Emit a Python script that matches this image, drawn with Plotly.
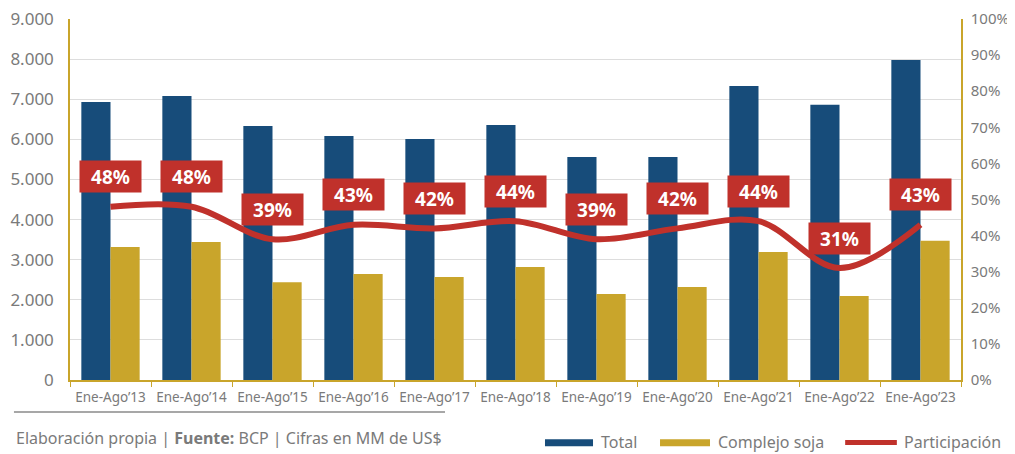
import plotly.graph_objects as go

categories = ["Ene-Ago’13", "Ene-Ago’14", "Ene-Ago’15", "Ene-Ago’16", "Ene-Ago’17",
              "Ene-Ago’18", "Ene-Ago’19", "Ene-Ago’20", "Ene-Ago’21", "Ene-Ago’22", "Ene-Ago’23"]
total = [6930, 7080, 6330, 6085, 6010, 6360, 5560, 5560, 7330, 6860, 7980]
soja = [3317, 3440, 2440, 2640, 2570, 2820, 2145, 2320, 3190, 2095, 3470]
participacion = [48, 48, 39, 43, 42, 44, 39, 42, 44, 31, 43]

BLUE = "#174C7A"
GOLD = "#C9A52B"
RED = "#C0312B"
GRAY = "#7A7A7A"
FONT = "Noto Sans"

fig = go.Figure()
fig.add_trace(go.Bar(x=categories, y=total, name="Total", showlegend=False,
                     marker=dict(color=BLUE, line=dict(width=0))))
fig.add_trace(go.Bar(x=categories, y=soja, name="Complejo soja", showlegend=False,
                     marker=dict(color=GOLD, line=dict(width=0))))
fig.add_trace(go.Scatter(x=categories, y=participacion, name="Participación", yaxis="y2", showlegend=False,
                         mode="lines", line=dict(color=RED, width=6, shape="spline", smoothing=1.0)))

for c, p in zip(categories, participacion):
    fig.add_annotation(x=c, y=p, yref="y2", text=f"<b>{p}%</b>", showarrow=False,
                       yshift=30, bgcolor=RED, font=dict(color="white", size=19, family=FONT),
                       borderpad=2, width=57, height=27)

# footer
fig.add_shape(type="line", xref="paper", yref="paper", x0=-0.0629, x1=0.4209, y0=-0.0886, y1=-0.0886,
              line=dict(color="#8A8A8A", width=1.5))
fig.add_annotation(xref="paper", yref="paper", x=-0.0629, y=-0.1607, xanchor="left", yanchor="middle",
                   text="Elaboración propia | <b>Fuente:</b> BCP | Cifras en MM de US$", showarrow=False,
                   font=dict(color=GRAY, size=16, family=FONT))

# manual legend
leg_y = -0.1730
fig.add_shape(type="rect", xref="paper", yref="paper", x0=0.5331, x1=0.5870, y0=-0.1640, y1=-0.1835,
              fillcolor=BLUE, line=dict(width=0))
fig.add_shape(type="rect", xref="paper", yref="paper", x0=0.6622, x1=0.7183, y0=-0.1640, y1=-0.1835,
              fillcolor=GOLD, line=dict(width=0))
fig.add_shape(type="line", xref="paper", yref="paper", x0=0.8700, x1=0.9280, y0=leg_y, y1=leg_y,
              line=dict(color=RED, width=5))
for xl, t in [(0.5937, "Total"), (0.7250, "Complejo soja"), (0.9340, "Participación")]:
    fig.add_annotation(xref="paper", yref="paper", x=xl, y=leg_y, xanchor="left", yanchor="middle",
                       text=t, showarrow=False, font=dict(color=GRAY, size=16, family=FONT))

fig.update_layout(
    width=1007, height=446,
    margin=dict(l=62, r=54, t=11, b=74, autoexpand=False),
    paper_bgcolor="white", plot_bgcolor="white",
    separators=",.",
    barmode="group", bargap=0.28, bargroupgap=0,
    font=dict(family=FONT, color=GRAY),
    showlegend=False,
    xaxis=dict(showline=True, linecolor=GOLD, linewidth=1.5, ticks="outside", tickcolor=GOLD,
               ticklen=5, tickson="boundaries", ticklabelstandoff=4, automargin=False,
               ticklabeloverflow="allow", tickfont=dict(size=13.5, color=GRAY)),
    yaxis=dict(range=[0, 9000], dtick=1000, tickformat=",d", showgrid=True, gridcolor="#DDDDDD",
               showline=True, linecolor=GOLD, linewidth=1.5, zeroline=False, automargin=False,
               ticklabeloverflow="allow", ticklabelstandoff=11, tickfont=dict(size=17, color=GRAY)),
    yaxis2=dict(range=[0, 100], dtick=10, ticksuffix="%", overlaying="y", side="right",
                showgrid=False, showline=True, linecolor=GOLD, linewidth=1.5, zeroline=False,
                automargin=False, ticklabeloverflow="allow", ticklabelstandoff=5,
                tickfont=dict(size=15, color=GRAY)),
)

fig.write_html("out.html")
